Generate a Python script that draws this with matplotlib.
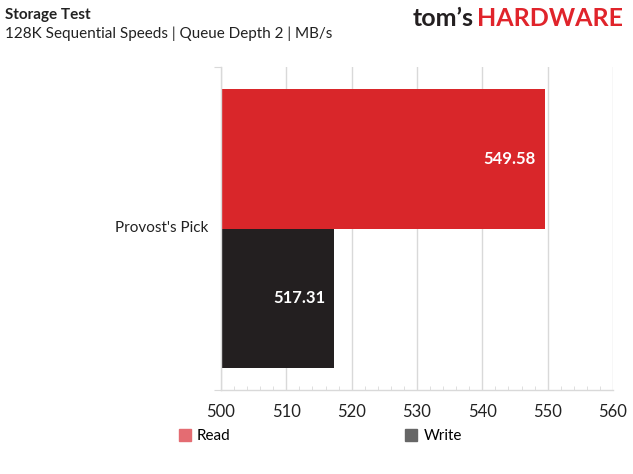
import matplotlib
matplotlib.use('Agg')
import matplotlib.pyplot as plt
from matplotlib.patches import Patch
from matplotlib.ticker import MultipleLocator

# -[Dati]---------------------------------------------------------------------
categories = ["Provost's Pick"]
series = ["Read", "Write"]
read_vals = [549.58]
write_vals = [517.31]
xticks = [500, 510, 520, 530, 540, 550, 560]

plt.rcParams['font.family'] = ['Lato', 'DejaVu Sans']

col_read = "#D9262A"
col_write = "#231F20"
col_grid = "#D9D9D9"

fig = plt.figure(figsize=(6.33, 4.74), dpi=100)
ax = fig.add_axes([221/633, 84/474, 392/633, 323/474])

# barre: Read sopra, Write sotto
ax.barh([0.5], [r - 500 for r in read_vals], left=500, height=1.0, color=col_read)
ax.barh([-0.5], [w - 500 for w in write_vals], left=500, height=1.0, color=col_write)
for v in read_vals:
    ax.text(v - 1.4, 0.5, f"{v:.2f}", ha="right", va="center", color="white",
            fontsize=12, fontweight="bold")
for v in write_vals:
    ax.text(v - 1.4, -0.5, f"{v:.2f}", ha="right", va="center", color="white",
            fontsize=12, fontweight="bold")

ax.set_xlim(500, 560)
ax.set_ylim(-1.154, 1.154)
ax.set_xticks(xticks)
ax.xaxis.set_minor_locator(MultipleLocator(2))
ax.grid(True, axis="x", color=col_grid, lw=1)
ax.set_axisbelow(True)
for s in ["top", "right"]:
    ax.spines[s].set_visible(False)
for s in ["left", "bottom"]:
    ax.spines[s].set_color(col_grid)
    ax.spines[s].set_linewidth(1)
ax.tick_params(axis="x", which="major", length=0, pad=10, labelsize=12, labelcolor="#222222")
ax.tick_params(axis="x", which="minor", direction="in", length=3, color=col_grid)
ax.set_yticks([-1.154, 1.154])
ax.set_yticklabels([])
ax.tick_params(axis="y", length=5, color=col_grid)
ax.text(-0.033, 0.5, categories[0], transform=ax.transAxes, ha="right", va="center",
        fontsize=11, color="#222222")

# legenda
handles = [Patch(color="#E46C72"), Patch(color="#666666")]
leg = fig.legend(handles, series, loc="center left", bbox_to_anchor=(165/633, 1 - 436/474),
                 ncol=2, frameon=False, fontsize=11, handlelength=0.8, handleheight=0.8,
                 handletextpad=0.4, columnspacing=11.4)

# titoli
fig.text(5/633, 1 - 15/474, "Storage Test", fontsize=11, fontweight="bold", va="center",
         color="#222222")
fig.text(5/633, 1 - 34/474, "128K Sequential Speeds | Queue Depth 2 | MB/s", fontsize=11,
         va="center", color="#222222")

# logo
fig.canvas.draw()
t1 = fig.text(413/633, 1 - 19/474, "tom\u2019s", fontsize=18, fontweight="bold", va="center",
              color="#231F20")
bb = t1.get_window_extent(renderer=fig.canvas.get_renderer())
fig.text((bb.x1 + 3)/633, 1 - 19/474, "HARDWARE", fontsize=18, fontweight="bold",
         va="center", color="#E0242B")

fig.savefig("out.png", dpi=100)
